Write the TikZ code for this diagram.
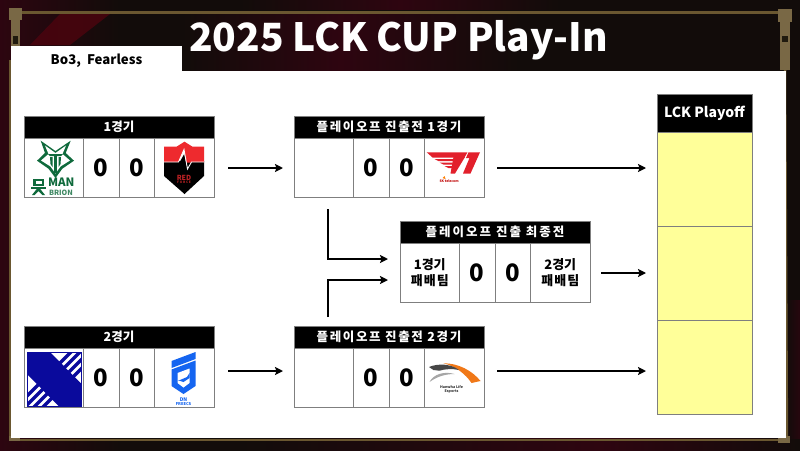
\documentclass[tikz,border=0pt]{standalone}
\usepackage{fontspec}
\setmainfont{Noto Sans CJK KR}
\usetikzlibrary{arrows.meta}
\definecolor{bgdark}{HTML}{120C0A}
\definecolor{bgred}{HTML}{2E0510}
\definecolor{gold}{HTML}{6A5730}
\definecolor{cellline}{HTML}{7F7F7F}
\definecolor{pay}{HTML}{FFFF99}
\definecolor{brion}{HTML}{0F6A3C}
\definecolor{nsred}{HTML}{EE2A2E}
\definecolor{kxblue}{HTML}{0A0A9C}
\definecolor{dnblue}{HTML}{1565F0}
\definecolor{tred}{HTML}{E2202C}
\definecolor{hleorange}{HTML}{F07818}
\newcommand{\spaced}[1]{\addfontfeature{LetterSpace=#1}}
\tikzset{
  x=1pt,y=-1pt,
  every node/.style={inner sep=0pt,outer sep=0pt,font=\bfseries},
  cell/.style={draw=cellline,line width=1pt,fill=white,minimum height=59pt,anchor=north west},
  hdr/.style={draw=cellline,line width=0.6pt,fill=black,text=white,font=\bfseries\fontsize{12.5}{14}\selectfont,minimum height=22.5pt,minimum width=190pt,anchor=north west},
  teamcell/.style={cell,minimum width=59.5pt},
  scorecell/.style={cell,minimum width=35.5pt,font=\bfseries\fontsize{24}{26}\selectfont},
  payslot/.style={draw=cellline,line width=1pt,fill=pay,minimum width=95pt,minimum height=94.3pt,anchor=north west},
  flow/.style={line width=2.4pt,-{Stealth[length=8pt,width=8pt,inset=1.5pt]}},
  goldline/.style={draw=gold,line width=2.4pt}
}
\newcommand{\matchbox}[6]{%
  \node[hdr] (#1h) at (#2,#3) {#4};
  \node[teamcell] (#1a) at (#2,#3+22.5) {#5};
  \node[scorecell] (#1s) at (#2+59.5,#3+22.5) {0};
  \node[scorecell] (#1t) at (#2+95,#3+22.5) {0};
  \node[teamcell] (#1b) at (#2+130.5,#3+22.5) {#6};
}
\begin{document}
\begin{tikzpicture}
\useasboundingbox (0,0) rectangle (800,450);
% background
\fill[bgdark] (-5,-5) rectangle (805,460);
\shade[left color=bgred,right color=bgdark] (-5,-5) rectangle (120,460);
\fill[bgred!85!red,opacity=.8] (60,14) -- (110,14) -- (70,45) -- (30,45) -- cycle;
\shade[left color=bgdark,right color=bgred] (182,14) rectangle (340,71);
\shade[left color=bgred,right color=bgdark] (340,14) rectangle (520,71);
\shade[left color=bgdark,right color=bgred] (240,-5) rectangle (400,9);
\shade[left color=bgred,right color=bgdark] (400,-5) rectangle (560,9);
\shade[left color=bgdark,right color=bgred] (240,438) rectangle (600,460);
\shade[left color=bgred,right color=bgdark] (600,438) rectangle (805,460);
\shade[left color=bgdark,right color=bgred] (786,300) rectangle (805,438);
% frame
\draw[goldline] (20,12.5) -- (780,12.5);
\draw[goldline] (785,60) -- (787,438);
\draw[draw=gold,line width=1.6pt] (10,60) -- (10,440) -- (786,440);
\fill[gold!90!white] (9,8) rectangle (22,20);
\fill[gold!90!white] (11,20) rectangle (20,46);
\fill[black!70!gold] (13,36) rectangle (18,44);
\fill[gold!90!white] (778,9) rectangle (792,22);
\fill[gold!90!white] (780,22) rectangle (790,70);
\fill[black!70!gold] (782,36) rectangle (788,42);
\fill[gold!90!white] (778,436) rectangle (790,443);
\fill[gold!90!white] (9,436) rectangle (20,441);
% panel
\fill[white] (11,71) rectangle (786,438);
\fill[white] (11,45.5) rectangle (182,71);
\node (sub) at (96.5,60.5) {\fontsize{13.2}{15}\selectfont Bo3,~~Fearless};
\node[text=white] (title) at (398.5,40.5) {\fontsize{38.9}{44}\selectfont 2025 LCK CUP Play-In};
% matches
\matchbox{mA}{24}{116}{1경기}{}{}
\matchbox{mB}{24}{326}{2경기}{}{}
\matchbox{mC}{294}{116}{\spaced{13}플레이오프 진출전 1경기}{}{}
\matchbox{mD}{294}{326}{\spaced{13}플레이오프 진출전 2경기}{}{}
\matchbox{mE}{400}{221}{\spaced{16}플레이오프 진출 최종전}{\parbox{50pt}{\centering\fontsize{13}{16}\selectfont 1경기\\\spaced{8}패배팀}}{\parbox{50pt}{\centering\fontsize{13}{16}\selectfont 2경기\\\spaced{8}패배팀}}
% playoff column
\node[draw=cellline,line width=0.6pt,fill=black,text=white,minimum width=95pt,minimum height=38pt,anchor=north west,font=\bfseries\fontsize{14}{16}\selectfont] (poh) at (657,94) {LCK Playoff};
\node[payslot] (po1) at (657,132) {};
\node[payslot] (po2) at (657,226.3) {};
\node[payslot] (po3) at (657,320.6) {};
% connector ends
\coordinate (a1s) at (228,168);
\coordinate (a1e) at (283,168);
\coordinate (a2s) at (228,371);
\coordinate (a2e) at (283,371);
\coordinate (a3s) at (497,168);
\coordinate (a3e) at (646,168);
\coordinate (a4s) at (497,371);
\coordinate (a4e) at (646,371);
\coordinate (a5s) at (601,273);
\coordinate (a5e) at (646,273);
\coordinate (e1s) at (328,209);
\coordinate (e1m) at (328,259);
\coordinate (e1e) at (388,259);
\coordinate (e2s) at (328,317);
\coordinate (e2m) at (328,280);
\coordinate (e2e) at (388,280);
\draw[flow] (a1s) -- (a1e);
\draw[flow] (a2s) -- (a2e);
\draw[flow] (a3s) -- (a3e);
\draw[flow] (a4s) -- (a4e);
\draw[flow] (a5s) -- (a5e);
\draw[flow] (e1s) -- (e1m) -- (e1e);
\draw[flow] (e2s) -- (e2m) -- (e2e);
% BRION logo
\begin{scope}[shift={(24,138)}]
\fill[brion] (16.7,2.7) -- (30,12) -- (31.5,13) -- (33,12) -- (46.7,2.7) -- (41.7,15) -- (50,22.7) -- (38.3,30.7) -- (31.5,40) -- (24.5,30.7) -- (13,22.7) -- (21,15) -- cycle;
\fill[white] (21,7.5) -- (31.5,15) -- (42,7.5) -- (38.5,16) -- (46,22.5) -- (36.5,28.5) -- (31.5,35.5) -- (26.5,28.5) -- (17,22.5) -- (24.5,16) -- cycle;
\fill[brion] (24,16) -- (39,16) -- (37,18) -- (26,18) -- cycle;
\fill[brion] (26,19) -- (28.5,19) -- (28.5,29) -- (26.5,26) -- cycle;
\fill[brion] (37,19) -- (34.5,19) -- (34.5,29) -- (36.5,26) -- cycle;
\fill[brion] (30,16) rectangle (33,35);
\fill[brion] (9,40.5) rectangle (20,47.5);
\fill[white] (11.5,42.5) rectangle (17.5,45.5);
\fill[brion] (7,48.5) rectangle (22,50.5);
\fill[brion] (13.5,50) -- (15.5,50) -- (21,57) -- (18.5,57) -- (14.5,53) -- (10.5,57) -- (8,57) -- cycle;
\node[text=brion,anchor=west] (brA) at (24,44.5) {\fontsize{11.5}{12}\selectfont MAN};
\node[text=brion!80!white,anchor=west] (brB) at (25,54.5) {\fontsize{7.2}{8}\selectfont BRION};
\end{scope}
% Red Force logo
\begin{scope}[shift={(154.5,138)}]
\fill[black] (9.5,23) -- (49.5,23) -- (49.5,38) -- (30,56) -- (9.5,38) -- cycle;
\fill[nsred] (9.5,8.7) -- (22,8.7) -- (30,3.7) -- (38,8.7) -- (49.5,8.7) -- (49.5,24) -- (37,24) -- (33,31) -- (29.5,11.5) -- (24,24) -- (9.5,24) -- cycle;
\fill[black] (29.7,16) -- (25,24.5) -- (37,24.5) -- (33.2,32) -- cycle;
\draw[white,line width=0.9pt] (9.5,24) -- (24,24) -- (29.5,11.5) -- (33,31) -- (37,24) -- (49.5,24);
\node[text=nsred!80!black] (rf1) at (29.5,39.5) {\fontsize{7}{8}\selectfont RED};
\node[text=nsred!80!black] (rf2) at (29.5,44.5) {\fontsize{3.2}{4}\selectfont F O R C E};
\end{scope}
% X logo
\begin{scope}[shift={(24,349)}]
\draw[kxblue,line width=0.5pt] (3,3) rectangle (57.5,57.5);
\begin{scope}
\clip (3,3) rectangle (57.5,57.5);
\fill[kxblue] (3,3) -- (26,3) -- (57.5,35) -- (57.5,57.5) -- (35,57.5) -- (3,25) -- cycle;
\foreach \c in {50,59,68,77}{
  \draw[kxblue,line width=3.2pt] ({(\c+18)/2},{(\c-18)/2}) -- ({(\c+18)/2+30},{(\c-18)/2-30});
  \draw[kxblue,line width=3.2pt] ({(\c-18)/2},{(\c+18)/2}) -- ({(\c-18)/2-30},{(\c+18)/2+30});
}
\end{scope}
\end{scope}
% DN Freecs logo
\begin{scope}[shift={(154.5,349)}]
\fill[dnblue] (17,12) -- (41,3) -- (41,10) -- (17,19) -- cycle;
\fill[dnblue] (17,20.5) -- (41,11.5) -- (41,37) -- (29,45) -- (17,37) -- cycle;
\fill[white] (23,24) -- (35,19.5) -- (35,34) -- (29,38.5) -- (23,34) -- cycle;
\fill[dnblue] (25.5,31) -- (32.5,28) -- (35,24) -- (35,29) -- (29,33) -- (23,31) -- cycle;
\node[text=dnblue] (dn1) at (29,50.5) {\fontsize{5}{6}\selectfont DN};
\node[text=dnblue] (dn2) at (29,55.5) {\fontsize{4}{5}\selectfont FREECS};
\end{scope}
% T1 logo
\begin{scope}[shift={(424.5,138)}]
\fill[tred] (2.2,14.3) -- (43,14.3) -- (40,19.5) -- (8,19.5) -- cycle;
\fill[tred] (29,19) -- (40.5,19) -- (30.5,35.5) -- (26,35.5) -- cycle;
\fill[tred] (10,21) -- (29,21) -- (28.6,23) -- (14,23) -- cycle;
\fill[tred] (15,24.5) -- (28.4,24.5) -- (28,26.5) -- (19,26.5) -- cycle;
\fill[tred] (20,28) -- (27.7,28) -- (27.3,30) -- (24,30) -- cycle;
\fill[tred] (44,14.3) -- (55.5,14.3) -- (46,35.5) -- (38.5,35.5) -- (45,20) -- (41.5,20) -- cycle;
\fill[orange] (18,40) -- (20,38) -- (21,41) -- cycle;
\node[text=red!75!black,anchor=west] (sk) at (15,43) {\fontsize{3.4}{4}\selectfont SK telecom};
\end{scope}
% HLE logo
\begin{scope}[shift={(424.5,349)}]
\fill[hleorange] (18.8,14.3) .. controls (34,14) and (48,22) .. (56,32) -- (47,34) .. controls (41,25) and (31,17) .. (18.8,14.3) -- cycle;
\fill[black!72] (4.5,18) .. controls (14,14) and (27,15) .. (34.5,21) .. controls (28,19.5) and (20,20) .. (15,21.7) -- (9,21) -- cycle;
\fill[black!35] (5,33) .. controls (9,25) and (20,22) .. (30,25) .. controls (20,25) and (12,28) .. (5,33) -- cycle;
\node[text=black!80] (hl1) at (27,38.5) {\fontsize{3.6}{4}\selectfont Hanwha Life};
\node[text=black!80] (hl2) at (27,43) {\fontsize{3.6}{4}\selectfont Esports};
\end{scope}
\end{tikzpicture}
\end{document}
